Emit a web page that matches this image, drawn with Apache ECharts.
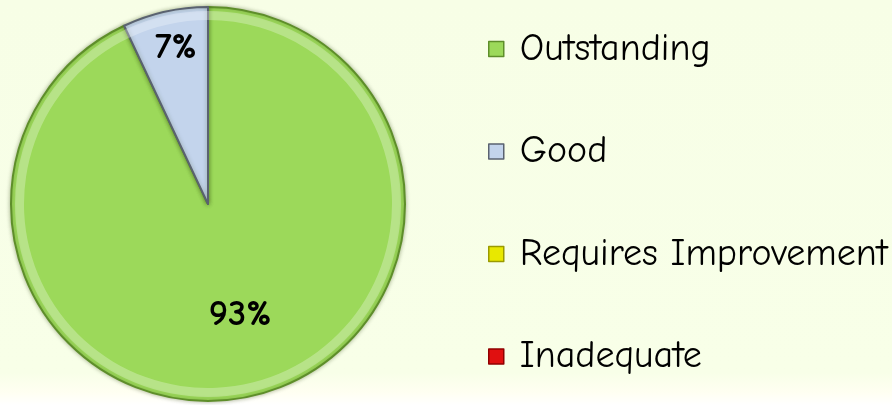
<!DOCTYPE html>
<html>
<head>
<meta charset="utf-8">
<script src="https://cdn.jsdelivr.net/npm/echarts@6/dist/echarts.min.js"></script>
<style>
  html, body { margin: 0; padding: 0; }
  #chart { width: 892px; height: 405px; }
</style>
</head>
<body>
<div id="chart"></div>
<script>
// Grade categories and their share of results (percent)
const categories = ['Outstanding', 'Good', 'Requires Improvement', 'Inadequate'];
const shares = [93, 7, 0, 0];

const fills = ['#9CD95A', '#C3D4EC', '#E8E800', '#E01010'];
const edges = ['#5E8E2A', '#5A6270', '#9A9A00', '#900000'];

const FONT = '"Comic Sans MS", "Comic Neue", Lato, "DejaVu Sans", sans-serif';

const chart = echarts.init(document.getElementById('chart'), null, { renderer: 'canvas' });

const mainData = categories.map((name, i) => ({
  name,
  value: shares[i],
  itemStyle: {
    color: fills[i],
    borderColor: edges[i],
    borderWidth: shares[i] > 0 ? 2 : 0
  },
  label: { show: shares[i] > 0 }
}));

// Legend swatches keep a dark edge even for empty grades
const legendData = categories.map((name, i) => ({
  name,
  itemStyle: { color: fills[i], borderColor: edges[i], borderWidth: 1.5 }
}));

// Thin translucent ring that gives the rim its bevelled highlight
const rimData = categories.map((name, i) => ({
  name,
  value: shares[i],
  itemStyle: {
    color: shares[i] > 0 ? 'rgba(255,255,255,0.28)' : 'transparent',
    borderWidth: 0
  }
}));

chart.setOption({
  backgroundColor: {
    type: 'linear', x: 0, y: 0, x2: 0, y2: 1,
    colorStops: [
      { offset: 0, color: '#F7FEE6' },
      { offset: 0.92, color: '#F8FFE8' },
      { offset: 0.97, color: '#FFFFF2' },
      { offset: 1, color: '#FFFFFF' }
    ]
  },
  animation: false,
  legend: {
    orient: 'vertical',
    left: 488,
    top: 30,
    padding: 0,
    itemWidth: 15,
    itemHeight: 15,
    itemGap: 64.5,
    icon: 'rect',
    data: legendData,
    textStyle: {
      fontFamily: FONT,
      fontSize: 38,
      lineHeight: 34,
      color: '#000',
      padding: [0, 0, 0, 11]
    }
  },
  series: [
    {
      type: 'pie',
      name: 'grades',
      center: [208, 204],
      radius: [0, 197],
      startAngle: 90,
      clockwise: true,
      silent: true,
      legendHoverLink: false,
      data: mainData,
      labelLine: { show: false },
      label: {
        position: 'inside',
        formatter: p => p.value + '%',
        fontFamily: FONT,
        fontWeight: 'bold',
        fontSize: 37,
        color: '#000'
      },
      labelLayout: p => p.dataIndex === 1 ? { dx: -10, dy: -57 } : { dx: 10, dy: 11 },
      itemStyle: {
        shadowColor: 'rgba(40,60,10,0.35)',
        shadowBlur: 4
      }
    },
    {
      type: 'pie',
      name: 'rim',
      center: [208, 204],
      radius: [184, 193],
      startAngle: 90,
      clockwise: true,
      silent: true,
      legendHoverLink: false,
      data: rimData,
      label: { show: false },
      labelLine: { show: false }
    }
  ]
});
</script>
</body>
</html>
